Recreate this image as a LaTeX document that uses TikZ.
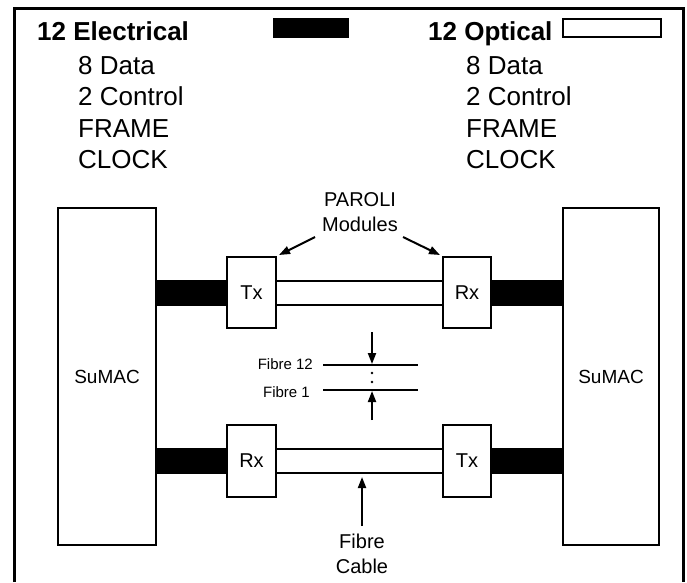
\documentclass[tikz,border=0pt]{standalone}
\usepackage{fontspec}
\setmainfont{Liberation Sans}
\usetikzlibrary{arrows.meta}
\begin{document}
\begin{tikzpicture}[x=1pt,y=-1pt,
  box/.style={draw,line width=2pt,fill=white,inner sep=0pt},
  lbl/.style={font=\fontsize{20}{25}\selectfont},
  hdr/.style={anchor=base west,inner sep=0pt,font=\fontsize{26}{30}\selectfont},
  hdrb/.style={hdr,font=\fontsize{26}{30}\selectfont\bfseries},
  fib/.style={line width=2pt},
  arr/.style={line width=2pt,-{Triangle[length=11pt,width=8pt]}},
  bar/.style={line width=26pt},
  small/.style={font=\fontsize{15}{18}\selectfont,inner sep=0pt}]
\useasboundingbox (0,0) rectangle (687,582);
% outer frame
\coordinate (fa) at (14,582);
\coordinate (fb) at (14,8);
\coordinate (fc) at (683,8);
\coordinate (fd) at (683,582);
\draw[line width=3pt] (fa) -- (fb) -- (fc) -- (fd);
% header
\node[hdrb] (el) at (37,40) {12 Electrical};
\node[hdr] (el1) at (78,74) {8 Data};
\node[hdr] (el2) at (78,105) {2 Control};
\node[hdr] (el3) at (78,137) {FRAME};
\node[hdr] (el4) at (78,168) {CLOCK};
\node[draw,fill=black,line width=1pt,minimum width=75pt,minimum height=19pt,inner sep=0pt] (kblack) at (310.5,28) {};
\node[hdrb] (op) at (428,40) {12 Optical};
\node[hdr] (op1) at (466,74) {8 Data};
\node[hdr] (op2) at (466,105) {2 Control};
\node[hdr] (op3) at (466,137) {FRAME};
\node[hdr] (op4) at (466,168) {CLOCK};
\node[draw,fill=white,line width=2pt,minimum width=98pt,minimum height=18pt,inner sep=0pt] (kwhite) at (612,28) {};
% SuMAC boxes
\node[box,lbl,font=\fontsize{19}{23}\selectfont,minimum width=98pt,minimum height=337pt] (sumacL) at (107,376.5) {SuMAC};
\node[box,lbl,font=\fontsize{19}{23}\selectfont,minimum width=96pt,minimum height=337pt] (sumacR) at (611,376.5) {SuMAC};
% PAROLI modules
\node[box,lbl,minimum width=49pt,minimum height=71pt] (txT) at (251.5,292.5) {Tx};
\node[box,lbl,minimum width=48pt,minimum height=71pt] (rxT) at (467,292.5) {Rx};
\node[box,lbl,minimum width=49pt,minimum height=72pt] (rxB) at (251.5,461) {Rx};
\node[box,lbl,minimum width=48pt,minimum height=72pt] (txB) at (467,461) {Tx};
% electrical bars
\draw[bar] (sumacL.east |- txT.center) -- (txT.west);
\draw[bar] (rxT.east) -- (sumacR.west |- rxT.center);
\draw[bar] (sumacL.east |- rxB.center) -- (rxB.west);
\draw[bar] (txB.east) -- (sumacR.west |- txB.center);
% fibre cables
\draw[fib] ([yshift=12pt]txT.east) -- ([yshift=12pt]rxT.west);
\draw[fib] ([yshift=-12pt]txT.east) -- ([yshift=-12pt]rxT.west);
\draw[fib] ([yshift=12pt]rxB.east) -- ([yshift=12pt]txB.west);
\draw[fib] ([yshift=-11.5pt]rxB.east) -- ([yshift=-11.5pt]txB.west);
% PAROLI label
\node[lbl,align=center,inner sep=0pt] (paroli) at (360,212) {PAROLI\\Modules};
\coordinate (pa1) at (315,237);
\coordinate (pa2) at (403,237);
\draw[arr] (pa1) -- ([xshift=2pt,yshift=1pt]txT.north east);
\draw[arr] (pa2) -- ([xshift=-2pt,yshift=1pt]rxT.north west);
% fibre detail
\node[small,anchor=east] (f12) at (313,364) {Fibre 12};
\node[small,anchor=east] (f1) at (310,392) {Fibre 1};
\coordinate (f12a) at (323,365);
\coordinate (f12b) at (418,365);
\coordinate (f1a) at (323,390);
\coordinate (f1b) at (418,390);
\draw[fib] (f12a) -- (f12b);
\draw[fib] (f1a) -- (f1b);
\coordinate (tA) at (372,332);
\coordinate (tB) at (372,364);
\coordinate (bA) at (372,420);
\coordinate (bB) at (372,391);
\draw[arr] (tA) -- (tB);
\draw[arr] (bA) -- (bB);
\fill (372,373) circle (1.3pt);
\fill (372,382) circle (1.3pt);
% fibre cable label
\node[lbl,align=center,inner sep=0pt] (fcab) at (362,553.5) {Fibre\\Cable};
\coordinate (fcT) at (362,477);
\coordinate (fcS) at (362,526);
\draw[arr] (fcS) -- (fcT);
\end{tikzpicture}
\end{document}
